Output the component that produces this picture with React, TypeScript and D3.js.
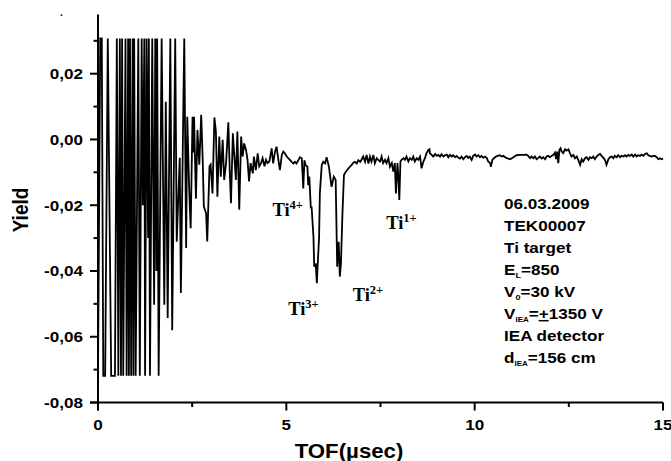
import React from "react";
import * as d3 from "d3";

// ---- data (TOF in µs, yield) ----
const burst: [number, number][] = [
  [0.0, -0.0719], [0.06, 0.0307], [0.1, 0.0307], [0.14, -0.0719], [0.19, -0.0719],
  [0.26, 0.0307], [0.35, -0.0719], [0.45, -0.0719], [0.5, 0.0307], [0.54, -0.0719],
  [0.58, 0.0307], [0.61, -0.0719], [0.64, 0.0307], [0.67, -0.0719], [0.73, 0.0307],
  [0.76, -0.0719], [0.8, 0.0307], [0.82, -0.0719], [0.85, 0.0307], [0.88, -0.0719],
  [0.92, 0.0307], [0.94, -0.0719], [0.96, 0.0307], [1.0, -0.0719], [1.07, 0.0307],
  [1.11, -0.0719], [1.16, 0.0307], [1.19, -0.02], [1.23, 0.0307], [1.25, -0.0719],
  [1.29, 0.0307], [1.33, -0.03], [1.35, 0.0307], [1.38, -0.0719], [1.44, 0.0307],
  [1.49, -0.0503], [1.52, 0.0307], [1.55, -0.04], [1.57, 0.0307], [1.61, -0.0719],
  [1.69, 0.0307], [1.76, -0.0503], [1.8, 0.0115], [1.85, -0.0543], [1.92, 0.0307],
  [1.97, -0.058], [2.05, 0.0307], [2.09, -0.0311], [2.17, -0.0056], [2.2, -0.0467],
  [2.29, 0.0307],
];

const ringdown: [number, number][] = [
  [2.34, -0.033], [2.37, 0.0069], [2.42, -0.015], [2.46, -0.027], [2.51, 0.0069],
  [2.53, -0.004], [2.55, 0.0069], [2.6, -0.018], [2.64, 0.0029], [2.69, -0.0077],
  [2.74, 0.0075], [2.78, -0.0062], [2.81, -0.0204], [2.87, -0.0224], [2.9, -0.031],
  [2.96, -0.0082], [2.99, -0.0077], [3.04, -0.0164], [3.09, 0.0067], [3.13, 0.0024],
  [3.17, -0.0174], [3.22, 0.0009], [3.26, -0.0113], [3.31, -0.0001], [3.35, -0.0123],
  [3.4, -0.0072], [3.46, 0.0052], [3.5, -0.0103], [3.53, -0.0194], [3.58, 0.0019],
  [3.62, -0.0052], [3.66, -0.0123], [3.7, 0.0024], [3.75, -0.0214], [3.8, 0.0009],
  [3.84, -0.0052], [3.88, -0.0012], [3.93, -0.0032], [3.97, -0.0062], [4.01, -0.0128],
  [4.05, -0.0072], [4.11, -0.0103], [4.14, -0.0052], [4.19, -0.0093], [4.24, -0.0042],
  [4.28, -0.0082], [4.33, -0.0072], [4.37, -0.0057], [4.42, -0.0082], [4.46, -0.0062],
  [4.5, -0.0072], [4.55, -0.0067],
];

const peaks: [number, number][] = [
  [4.61, -0.0027], [4.65, -0.0073], [4.7, -0.0037], [4.74, -0.0022], [4.79, -0.0063],
  [4.83, -0.0093], [4.88, -0.0047], [4.92, -0.0037], [4.96, -0.0042], [5.01, -0.0052],
  [5.05, -0.0057], [5.1, -0.0063], [5.14, -0.0068], [5.19, -0.0073], [5.23, -0.0068],
  [5.27, -0.0073], [5.32, -0.0063], [5.36, -0.0054], [5.41, -0.0057], [5.45, -0.0149],
  [5.48, -0.0063], [5.51, -0.0078], [5.56, -0.0083], [5.58, -0.0139], [5.61, -0.0113],
  [5.65, -0.0209], [5.67, -0.0204], [5.72, -0.0296], [5.74, -0.0387], [5.78, -0.0377],
  [5.81, -0.0437], [5.83, -0.0387], [5.87, -0.0296], [5.89, -0.0164], [5.94, -0.0078],
  [5.98, -0.0068], [6.03, -0.0073], [6.07, -0.0054], [6.13, -0.0083], [6.2, -0.0144],
  [6.26, -0.0113], [6.31, -0.0123], [6.35, -0.0387], [6.39, -0.0311], [6.42, -0.0417],
  [6.45, -0.0377], [6.49, -0.0225], [6.53, -0.0108], [6.58, -0.0098], [6.65, -0.0088],
  [6.69, -0.0083], [6.73, -0.0078], [6.78, -0.0071], [6.82, -0.0068], [6.87, -0.0073],
  [6.91, -0.0063], [6.96, -0.0068], [7.0, -0.0061], [7.04, -0.0052], [7.09, -0.0068],
  [7.13, -0.0047], [7.18, -0.0073], [7.22, -0.0052], [7.26, -0.0067], [7.31, -0.0047],
  [7.35, -0.0072], [7.4, -0.0057], [7.44, -0.0062], [7.49, -0.0067], [7.53, -0.0052],
  [7.57, -0.0072], [7.62, -0.0062], [7.66, -0.0072], [7.71, -0.0057], [7.75, -0.0083],
  [7.8, -0.0072], [7.84, -0.0098], [7.88, -0.0072], [7.91, -0.0164], [7.95, -0.0072],
  [7.97, -0.0103], [8.0, -0.0184], [8.03, -0.0067], [8.06, -0.0062], [8.11, -0.0057],
  [8.15, -0.0062], [8.19, -0.0052], [8.24, -0.0067], [8.28, -0.0057], [8.33, -0.0062],
  [8.37, -0.0052], [8.41, -0.0067], [8.46, -0.0057], [8.5, -0.0062], [8.55, -0.0052],
  [8.59, -0.0088], [8.64, -0.0067], [8.68, -0.0057], [8.72, -0.0042], [8.77, -0.0032],
  [8.8, -0.003], [8.81, -0.0042], [8.86, -0.0047], [8.9, -0.0052], [8.95, -0.0044],
];

const tail: [number, number][] = [
  [8.99, -0.005], [9.03, -0.0047], [9.08, -0.0052], [9.12, -0.0045], [9.17, -0.0052],
  [9.21, -0.0048], [9.26, -0.0046], [9.3, -0.0054], [9.34, -0.0047], [9.39, -0.0052],
  [9.43, -0.0048], [9.48, -0.0054], [9.52, -0.005], [9.57, -0.0056], [9.61, -0.0058],
  [9.65, -0.0052], [9.7, -0.006], [9.74, -0.0054], [9.79, -0.005], [9.83, -0.0056],
  [9.87, -0.0052], [9.92, -0.0062], [9.96, -0.005], [10.01, -0.0046], [10.05, -0.0052],
  [10.1, -0.0048], [10.14, -0.0054], [10.18, -0.005], [10.23, -0.0056], [10.27, -0.0052],
  [10.32, -0.0056], [10.36, -0.0067], [10.41, -0.0072], [10.43, -0.0083], [10.47, -0.0062],
  [10.51, -0.0057], [10.57, -0.0052], [10.61, -0.005], [10.67, -0.0048], [10.72, -0.0052],
  [10.76, -0.005], [10.85, -0.0057], [10.94, -0.006], [11.03, -0.0054], [11.11, -0.0048],
  [11.2, -0.0047], [11.29, -0.0047], [11.38, -0.0046], [11.42, -0.005], [11.47, -0.0057],
  [11.51, -0.0052], [11.56, -0.0057], [11.6, -0.0052], [11.645, -0.006], [11.69, -0.0056],
  [11.73, -0.0052], [11.78, -0.0058], [11.82, -0.0054], [11.87, -0.006], [11.91, -0.0052],
  [11.95, -0.005], [12.0, -0.0054], [12.04, -0.005], [12.09, -0.0047], [12.13, -0.004],
  [12.16, -0.006], [12.19, -0.0037], [12.22, -0.0072], [12.25, -0.0032], [12.28, -0.0027],
  [12.31, -0.0037], [12.35, -0.0042], [12.4, -0.003], [12.44, -0.0034], [12.49, -0.003],
  [12.53, -0.0042], [12.57, -0.0052], [12.62, -0.0047], [12.66, -0.0057], [12.71, -0.0052],
  [12.75, -0.0062], [12.8, -0.0077], [12.84, -0.006], [12.88, -0.0067], [12.93, -0.0057],
  [12.97, -0.0054], [13.02, -0.0062], [13.06, -0.0054], [13.11, -0.0057], [13.15, -0.0052],
  [13.19, -0.006], [13.24, -0.0052], [13.28, -0.0047], [13.33, -0.0044], [13.37, -0.005],
  [13.42, -0.0056], [13.46, -0.0062], [13.5, -0.0077], [13.55, -0.006], [13.59, -0.0054],
  [13.64, -0.0052], [13.68, -0.0057], [13.72, -0.005], [13.77, -0.0054], [13.81, -0.0048],
  [13.86, -0.0054], [13.9, -0.005], [13.95, -0.0052], [13.99, -0.0048], [14.03, -0.0052],
  [14.08, -0.0047], [14.12, -0.005], [14.17, -0.0046], [14.21, -0.0052], [14.26, -0.0046],
  [14.3, -0.0052], [14.34, -0.0048], [14.39, -0.005], [14.43, -0.0046], [14.48, -0.005],
  [14.52, -0.0044], [14.57, -0.0042], [14.61, -0.0048], [14.65, -0.005], [14.7, -0.0052],
  [14.74, -0.005], [14.79, -0.005], [14.83, -0.0054], [14.88, -0.006], [14.92, -0.0057],
  [14.97, -0.006], [15.0, -0.0058],
];

const xMajorTicks = [0, 5, 10, 15];
const xMinorTicks = [2.5, 7.5, 12.5];
const yMajorTicks = [-0.08, -0.06, -0.04, -0.02, 0, 0.02];
const yMinorTicks = [-0.07, -0.05, -0.03, -0.01, 0.01, 0.03];

const ionLabels = [
  { charge: "4+", tof: 4.63, yieldPos: -0.0233 },
  { charge: "3+", tof: 5.05, yieldPos: -0.0533 },
  { charge: "2+", tof: 6.76, yieldPos: -0.0490 },
  { charge: "1+", tof: 7.65, yieldPos: -0.0273 },
];

const SX = 1.14;
const SANS = "'Liberation Sans', Arial, sans-serif";
const SERIF = "'Liberation Serif', 'Times New Roman', serif";

function SText(props: {
  x: number; y: number; size: number; anchor?: string; family?: string; children: React.ReactNode;
}) {
  const { x, y, size, anchor = "start", family = SANS, children } = props;
  return (
    <text
      transform={`translate(${x},${y}) scale(${SX},1)`}
      fontFamily={family}
      fontWeight="bold"
      fontSize={size}
      textAnchor={anchor}
      fill="#000"
    >
      {children}
    </text>
  );
}

export default function App() {
  const W = 671, H = 461;
  const x = d3.scaleLinear().domain([0, 15]).range([98, 663]);
  const y = d3.scaleLinear().domain([-0.08, 0.038]).range([402.5, 14.5]);
  const data = [...burst, ...ringdown, ...peaks, ...tail];
  const line = d3.line<[number, number]>().x((d) => x(d[0])).y((d) => y(d[1]));
  const fmt = (v: number) => d3.format(".2f")(v).replace(".", ",").replace("−", "-");
  const x0 = x.range()[0];
  const yb = y.range()[0];
  const infoX = 504;
  const lh = 22;
  const info0 = 209;

  return (
    <svg width={W} height={H} style={{ position: "absolute", left: 0, top: 0, background: "#fff" }}>
      <rect width={W} height={H} fill="#fff" />
      <text x={60} y={16} fontSize={10} fontFamily={SANS} fontWeight="bold">.</text>
      {/* data */}
      <path d={line(data) || ""} fill="none" stroke="#000" strokeWidth={1.8} />
      {/* axes */}
      <line x1={x0} x2={x0} y1={y.range()[1]} y2={yb + 8} stroke="#000" strokeWidth={2} />
      <line x1={x0 - 8} x2={x.range()[1]} y1={yb} y2={yb} stroke="#000" strokeWidth={2} />
      {yMajorTicks.map((t) => (
        <g key={"ym" + t}>
          <line x1={x0 - 8} x2={x0} y1={y(t)} y2={y(t)} stroke="#000" strokeWidth={2} />
          <SText x={83} y={y(t) + 5.5} size={15} anchor="end">{fmt(t)}</SText>
        </g>
      ))}
      {yMinorTicks.map((t) => (
        <line key={"yn" + t} x1={x0 - 4.5} x2={x0} y1={y(t)} y2={y(t)} stroke="#000" strokeWidth={2} />
      ))}
      {xMajorTicks.map((t) => (
        <g key={"xm" + t}>
          <line x1={x(t)} x2={x(t)} y1={yb} y2={yb + 8} stroke="#000" strokeWidth={2} />
          <SText x={x(t)} y={430} size={15} anchor="middle">{String(t)}</SText>
        </g>
      ))}
      {xMinorTicks.map((t) => (
        <line key={"xn" + t} x1={x(t)} x2={x(t)} y1={yb} y2={yb + 4.5} stroke="#000" strokeWidth={2} />
      ))}
      {/* axis titles */}
      <text
        transform={`translate(28,210) rotate(-90) scale(1,${SX})`}
        fontFamily={SANS} fontWeight="bold" fontSize={19} textAnchor="middle"
      >Yield</text>
      <SText x={349} y={458} size={19.5} anchor="middle">TOF(µsec)</SText>
      {/* ion labels */}
      {ionLabels.map((l) => (
        <text key={l.charge} x={x(l.tof)} y={y(l.yieldPos)} fontFamily={SERIF} fontWeight="bold" fontSize={18.5}>
          Ti<tspan fontSize={12.5} dy={-7}>{l.charge}</tspan>
        </text>
      ))}
      {/* info block */}
      <SText x={infoX} y={info0} size={15}>06.03.2009</SText>
      <SText x={infoX} y={info0 + lh} size={15}>TEK00007</SText>
      <SText x={infoX} y={info0 + 2 * lh} size={15}>Ti target</SText>
      <SText x={infoX} y={info0 + 3 * lh} size={15}>
        E<tspan fontSize={8} dy={3}>L</tspan><tspan dy={-3}>=850</tspan>
      </SText>
      <SText x={infoX} y={info0 + 4 * lh} size={15}>
        V<tspan fontSize={8} dy={3}>0</tspan><tspan dy={-3}>=30 kV</tspan>
      </SText>
      <SText x={infoX} y={info0 + 5 * lh} size={15}>
        V<tspan fontSize={7} dy={3}>IEA</tspan><tspan dy={-3}>=</tspan>
        <tspan textDecoration="underline">+</tspan>1350 V
      </SText>
      <SText x={infoX} y={info0 + 6 * lh} size={15}>IEA detector</SText>
      <SText x={infoX} y={info0 + 7 * lh} size={15}>
        d<tspan fontSize={7} dy={3}>IEA</tspan><tspan dy={-3}>=156 cm</tspan>
      </SText>
    </svg>
  );
}
